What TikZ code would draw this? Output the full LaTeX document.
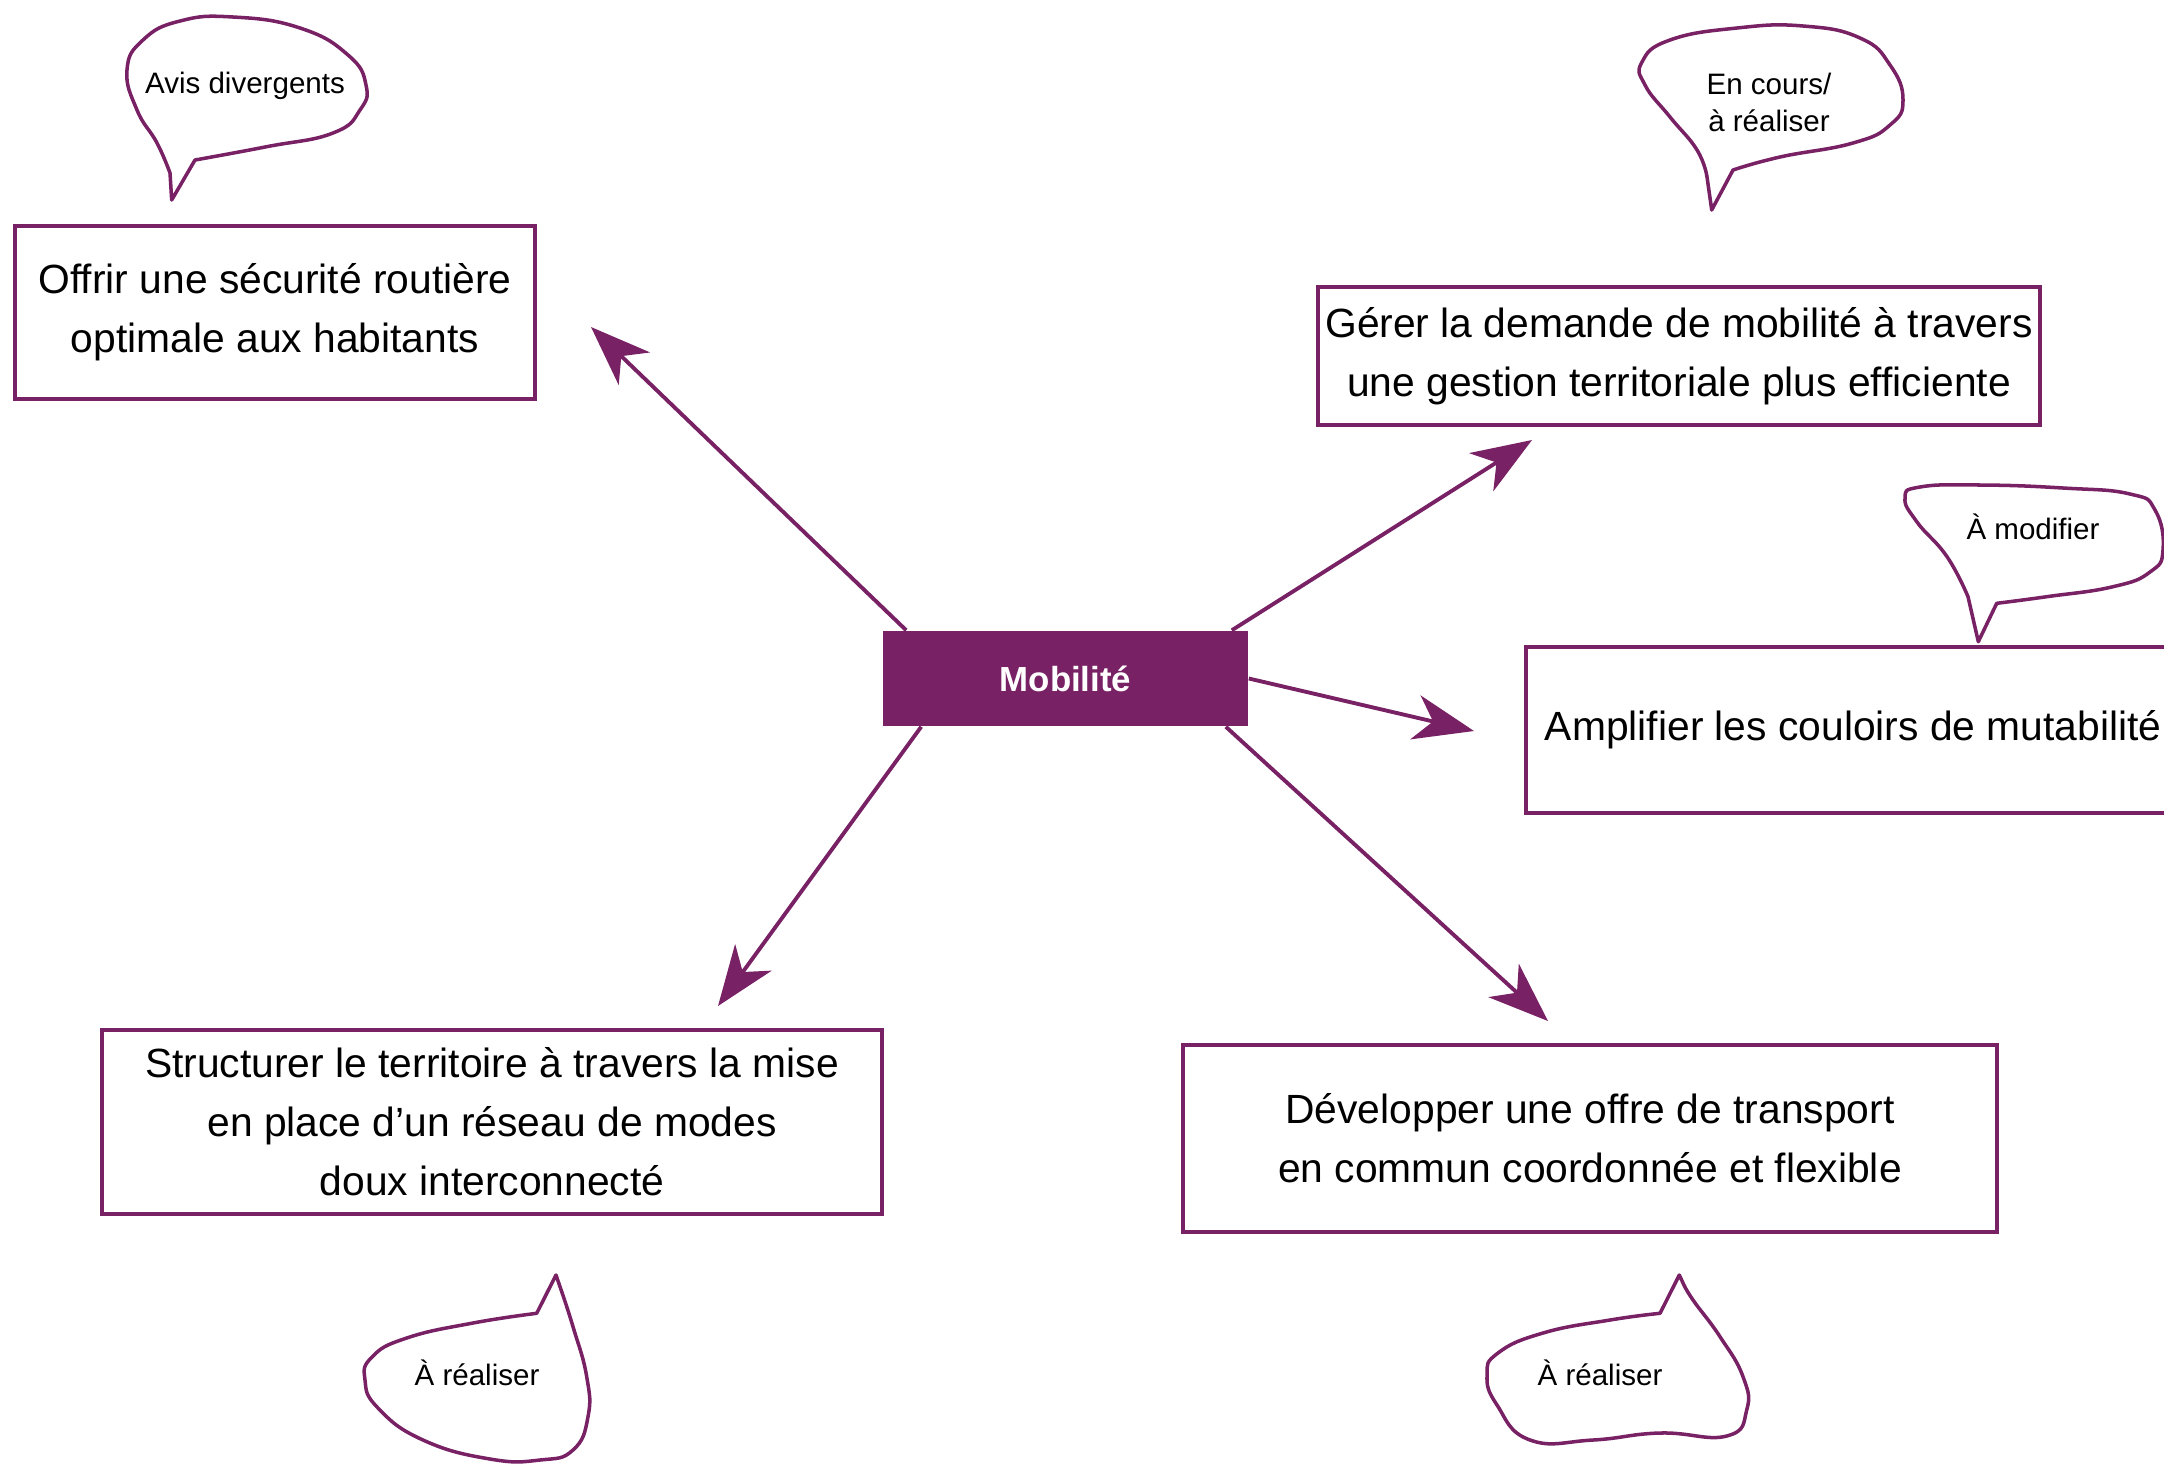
\documentclass[tikz,border=0pt]{standalone}
\usepackage{fontspec}
\setmainfont{Liberation Sans}
\usetikzlibrary{arrows.meta}

\definecolor{mobviolet}{RGB}{120,33,100}

\tikzset{
  objectif/.style={draw=mobviolet, line width=1.1pt, align=center, inner sep=0pt,
    font=\fontsize{11.6}{16.8}\selectfont},
  fleche/.style={draw=mobviolet, line width=1.1pt,
    -{Stealth[length=6mm,width=4.5mm,inset=1.8mm]}},
  bulle/.style={draw=mobviolet, line width=1pt, line join=round},
  avis/.style={font=\fontsize{8.4}{10.5}\selectfont, align=center}
}

\begin{document}
\begin{tikzpicture}[x=0.01cm,y=-0.01cm]
\useasboundingbox (0,0) rectangle (2164,1463);

% centre
\node[fill=mobviolet, minimum width=3.65cm, minimum height=0.95cm, text=white,
  font=\fontsize{9.9}{12}\selectfont\bfseries] (mob) at (1065.5,678.5) {Mobilité};

% objectifs
\node[objectif, minimum width=5.2cm, minimum height=1.73cm] (securite) at (275,312.5)
  {Offrir une sécurité routière\\optimale aux habitants};
\node[objectif, minimum width=7.22cm, minimum height=1.38cm] (demande) at (1679,356)
  {Gérer la demande de mobilité à travers\\une gestion territoriale plus efficiente};
\node[objectif, anchor=west, minimum height=1.66cm, inner xsep=0.19cm] (couloirs) at (1524,730)
  {Amplifier les couloirs de mutabilité};
\node[objectif, minimum width=7.8cm, minimum height=1.84cm] (modes) at (492,1122)
  {Structurer le territoire à travers la mise\\en place d’un réseau de modes\\doux interconnecté};
\node[objectif, minimum width=8.14cm, minimum height=1.87cm] (transport) at (1590,1138.5)
  {Développer une offre de transport\\en commun coordonnée et flexible};

% bouts des fleches
\coordinate (t1) at (591,327);
\coordinate (t2) at (1532,440);
\coordinate (t3) at (1474,731);
\coordinate (t4) at (718,1006);
\coordinate (t5) at (1548,1021);

\draw[fleche] ([xshift=0.24cm]mob.north west) -- (t1);
\draw[fleche] ([xshift=-0.17cm]mob.north east) -- (t2);
\draw[fleche] (mob.east) -- (t3);
\draw[fleche] ([xshift=0.39cm]mob.south west) -- (t4);
\draw[fleche] ([xshift=-0.23cm]mob.south east) -- (t5);

% bulles
\draw[bulle] (171.7,200) -- plot[smooth, tension=0.8] coordinates {(195,160) (266.7,146.7)
  (333,133) (360,110) (366,85) (348,55) (300,28) (233,17) (180,21) (143,40) (127,70)
  (137,110) (157,143) (170,173)} -- cycle;
\node[avis] (avis1) at (245,86) {Avis divergents};

\draw[bulle] (1711.7,210) -- plot[smooth, tension=0.8] coordinates {(1733,170) (1780,157)
  (1853,143) (1890,125) (1903,100) (1890,65) (1860,38) (1803,26) (1737,28) (1670,40)
  (1642,62) (1645,85) (1670,117) (1697,150) (1707,177)} -- cycle;
\node[avis] (avis2) at (1769,102) {En cours/\\à réaliser};

\draw[bulle] (1978.3,641.7) -- plot[smooth, tension=0.8] coordinates {(1996.7,603.3)
  (2046.7,596.7) (2113,586.7) (2150,572) (2163,550) (2155,510) (2130,494) (2063,488)
  (1980,485) (1920,487) (1905,498) (1917,522) (1947,556.7) (1968,596.7)} -- cycle;
\node[avis] (avis3) at (2033,527) {À modifier};

\draw[bulle] (556,1275) -- plot[smooth, tension=0.8] coordinates {(536.7,1313.3) (473,1323)
  (406.7,1338) (372,1357) (365,1380) (378,1408) (423,1440) (490,1459)
  (540,1460) (573,1450) (588,1416.7) (586.7,1376.7) (573,1326.7) (560,1286.7)} -- cycle;
\node[avis] (avis4) at (477,1373) {À réaliser};

\draw[bulle] (1679.3,1275) -- plot[smooth, tension=0.8] coordinates {(1660,1313.3) (1610,1320)
  (1543,1333) (1498,1353) (1487,1375) (1497,1405) (1530,1440) (1593,1440)
  (1660,1433) (1726.7,1436) (1746.7,1410) (1743,1376.7) (1720,1336.7) (1693,1300)
  (1683,1283)} -- cycle;
\node[avis] (avis5) at (1600,1373) {À réaliser};
\end{tikzpicture}
\end{document}
